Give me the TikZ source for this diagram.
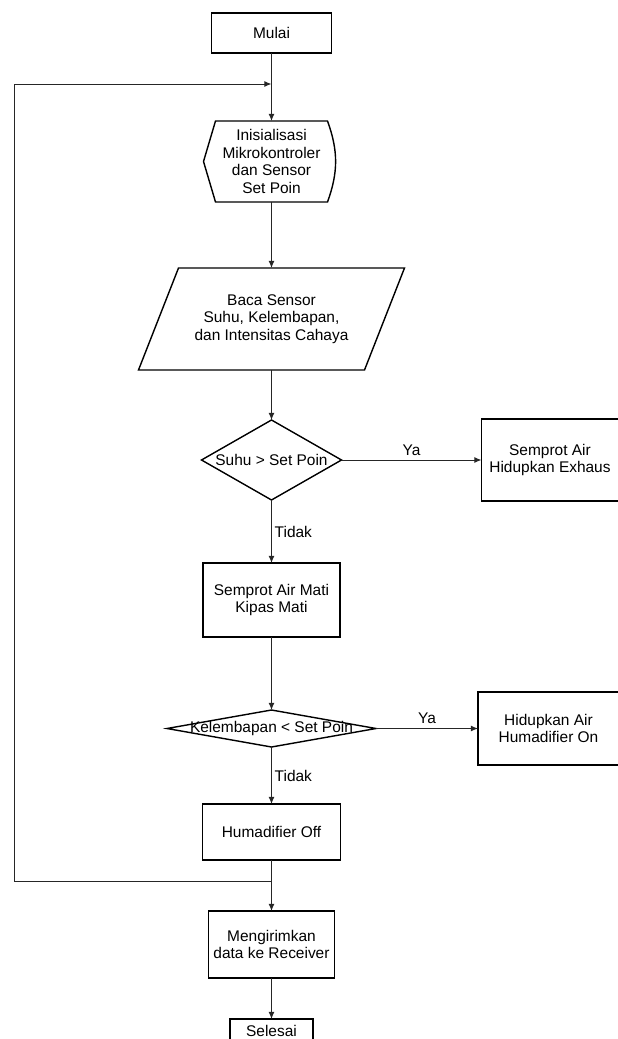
\documentclass[tikz,border=0pt]{standalone}
\usepackage{fontspec}
\setmainfont{Liberation Sans}
\usepackage{tikz}
\usetikzlibrary{positioning, shapes.geometric, arrows.meta}
\tikzset{
	every node/.append style={
		align = center,
		outer sep=0pt,
	},
	labe/.append style={
		inner sep=0.8mm,
	},
	proses/.append style={
		draw,
		line width=1pt,
		minimum height=10mm,
	},
	keputusan/.append style={
		diamond,
		draw,
		line width=1pt,
		aspect=1.75,
		inner sep=0pt,
	},
	tampil/.append style={
		draw=none,
		inner sep=0pt,
	},
	garis/.append style={
		line width=0.7pt,
		draw=black!85,
		-{Latex[length=1.8mm,width=1.5mm]},
	}
}

\begin{document}
\begin{tikzpicture}[font=\fontsize{11}{12.4}\selectfont]
\useasboundingbox (0,0) rectangle (15.45,-25.975);

\node(mulai)[proses, minimum width=30mm] at (6.7875,-0.825) {Mulai};
\node(init)[tampil, minimum width=28mm, minimum height=20.25mm, below = 17mm of mulai] {Inisialisasi\\Mikrokontroler\\dan Sensor\\Set Poin};
\draw[line width=1pt] (init.north west) -- (init.north east) to[bend left=20] (init.south east)
	-- (init.south west) -- ([xshift=-3mm]init.west) -- cycle;
\node(baca)[tampil, minimum width=56.5mm, minimum height=25.5mm, below = 16.5mm of init] {Baca Sensor\\Suhu, Kelembapan,\\dan Intensitas Cahaya};
\draw[line width=1pt] ([xshift=5mm]baca.north west) -- ([xshift=5mm]baca.north east)
	-- ([xshift=-5mm]baca.south east) -- ([xshift=-5mm]baca.south west) -- cycle;
\node(suhu)[keputusan, minimum width=35mm, minimum height=20mm, below = 12.5mm of baca] {Suhu > Set Poin};
\node(exhaus)[proses, minimum width=34.25mm, minimum height=20.5mm, right = 35mm of suhu] {Semprot Air\\Hidupkan Exhaus};
\node(mati)[proses, minimum width=34.25mm, minimum height=18.5mm, below = 15.75mm of suhu] {Semprot Air Mati\\Kipas Mati};
\node(lembab)[keputusan, minimum width=52.25mm, minimum height=9.25mm, label=center:{Kelembapan < Set Poin}, below = 18.25mm of mati] {};
\node(humon)[proses, minimum width=35.25mm, minimum height=18.25mm, right = 25.5mm of lembab] {Hidupkan Air\\Humadifier On};
\node(humoff)[proses, minimum width=34.5mm, minimum height=14mm, below = 14.25mm of lembab] {Humadifier Off};
\node(kirim)[proses, minimum width=31.5mm, minimum height=16.75mm, below = 12.75mm of humoff] {Mengirimkan\\data ke Receiver};
\node(selesai)[proses, minimum width=20.75mm, minimum height=6mm, below = 10.25mm of kirim] {Selesai};

\coordinate[below = 7.75mm of mulai] (atas);
\coordinate[below = 5.25mm of humoff] (cabang);
\coordinate[left = 64.25mm of cabang] (kiri);

\draw[garis] (mulai) -- (init);
\draw[garis] (init) -- (baca);
\draw[garis] (baca) -- (suhu);
\draw[garis] (suhu) -- node[labe,above=0.4mm]{Ya} (exhaus);
\draw[garis] (suhu) -- node[labe,right]{Tidak} (mati);
\draw[garis] (mati) -- (lembab);
\draw[garis] (lembab) -- node[labe,above=0.4mm]{Ya} (humon);
\draw[garis] (lembab) -- node[labe,right]{Tidak} (humoff);
\draw[garis] (humoff) -- (kirim);
\draw[garis] (kirim) -- (selesai);
\draw[garis] (cabang) -- (kiri) |- (atas);
\end{tikzpicture}
\end{document}
